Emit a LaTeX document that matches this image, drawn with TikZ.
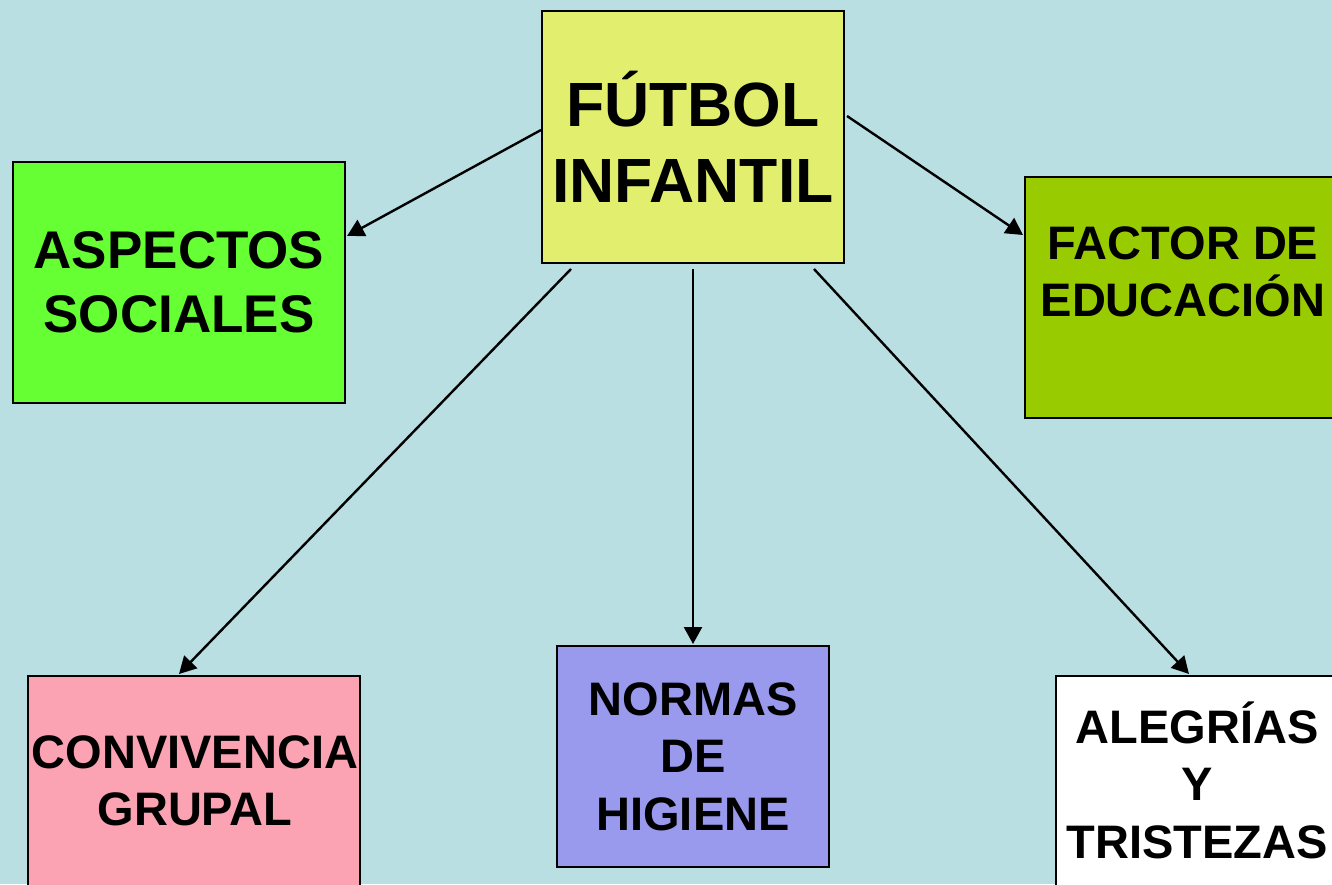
\documentclass[tikz,border=0pt]{standalone}
\usepackage{fontspec}
\setmainfont{Liberation Sans}
\usetikzlibrary{arrows.meta,calc}
\definecolor{bgc}{HTML}{B9DFE2}
\definecolor{futc}{HTML}{E2EE6E}
\definecolor{aspc}{HTML}{66FF33}
\definecolor{facc}{HTML}{99CC00}
\definecolor{conc}{HTML}{FBA3B3}
\definecolor{norc}{HTML}{9999EE}
\tikzset{
  box/.style={draw=black, line width=2pt, inner sep=0pt, align=center, font=\bfseries\fontsize{47}{57.5}\selectfont},
  txt/.style={inner sep=0pt, align=center, font=\bfseries\fontsize{47}{57.5}\selectfont},
  conn/.style={line width=2.4pt, -{Triangle[length=17pt,width=18pt]}}
}
\begin{document}
\begin{tikzpicture}[x=1pt,y=-1pt]
\clip (0,0) rectangle (1332,884);
\fill[bgc] (0,0) rectangle (1332,884);
% boxes
\node[box, fill=futc, minimum width=302pt, minimum height=252pt, font=\bfseries\fontsize{62.5}{76}\selectfont] (fut) at (693,137) {FÚTBOL\\INFANTIL};
\node[box, fill=aspc, minimum width=332pt, minimum height=241pt, font=\bfseries\fontsize{53}{64}\selectfont] (asp) at (179,282.5) {ASPECTOS\\SOCIALES};
\node[box, fill=facc, minimum width=316pt, minimum height=241pt] (fac) at (1183,297.5) {};
\node[txt] (factxt) at (1183,272) {FACTOR DE\\EDUCACIÓN};
\node[box, fill=conc, minimum width=332pt, minimum height=260pt] (con) at (194,806) {};
\node[txt] (contxt) at (195,781) {CONVIVENCIA\\GRUPAL};
\node[box, fill=norc, minimum width=272pt, minimum height=221pt] (nor) at (693,756.5) {NORMAS\\DE\\HIGIENE};
\node[box, fill=white, minimum width=282pt, minimum height=260pt] (ale) at (1197,806) {};
\node[txt] (aletxt) at (1197,780) {ALEGRÍAS\\Y\\TRISTEZAS};
% connector endpoints
\coordinate (s1) at ($(fut.north west)+(0,120)$);
\coordinate (e1) at ($(asp.north east)+(1,75)$);
\coordinate (s2) at ($(fut.north east)+(2,106)$);
\coordinate (e2) at ($(fac.north west)+(-1,59)$);
\coordinate (s3) at ($(fut.south west)+(30,5)$);
\coordinate (e3) at ($(con.north west)+(152,-1)$);
\coordinate (s4) at ($(fut.south)+(0,5)$);
\coordinate (e4) at ($(nor.north)+(0,-1)$);
\coordinate (s5) at ($(fut.south west)+(273,5)$);
\coordinate (e5) at ($(ale.north west)+(134,-1)$);
\draw[conn] (s1) -- (e1);
\draw[conn] (s2) -- (e2);
\draw[conn] (s3) -- (e3);
\draw[conn] (s4) -- (e4);
\draw[conn] (s5) -- (e5);
\end{tikzpicture}
\end{document}
